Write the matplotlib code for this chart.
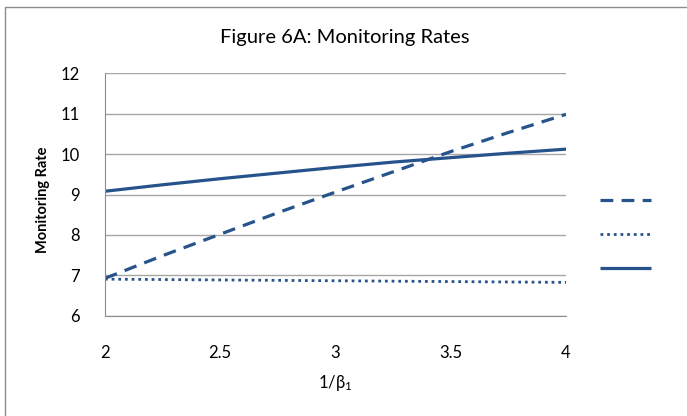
import matplotlib
matplotlib.use('Agg')
import matplotlib.pyplot as plt
from matplotlib.lines import Line2D
from matplotlib.patches import Rectangle

plt.rcParams['font.family'] = ['Lato', 'DejaVu Sans']
plt.rcParams['mathtext.fontset'] = 'custom'
plt.rcParams['mathtext.rm'] = 'Lato'
plt.rcParams['mathtext.it'] = 'Lato:italic'

# data
inv_beta = [2.0, 2.25, 2.5, 2.75, 3.0, 3.25, 3.5, 3.75, 4.0]
rate_dashed = [6.93, 7.49, 8.02, 8.55, 9.06, 9.56, 10.06, 10.53, 10.98]
rate_dotted = [6.91, 6.90, 6.89, 6.88, 6.87, 6.86, 6.85, 6.84, 6.83]
rate_solid = [9.08, 9.24, 9.39, 9.53, 9.67, 9.80, 9.91, 10.02, 10.12]
x_ticks = [2, 2.5, 3, 3.5, 4]
x_tick_labels = ['2', '2.5', '3', '3.5', '4']
y_ticks = [6, 7, 8, 9, 10, 11, 12]

blue = '#27538C'
grid_col = '#A6A6A6'

fig = plt.figure(figsize=(6.87, 4.16), dpi=100)
ax = fig.add_axes([0.1528, 0.2404, 0.6711, 0.5841])

ax.plot(inv_beta, rate_dashed, color=blue, lw=2.3, dashes=(4, 2.6))
ax.plot(inv_beta, rate_dotted, color=blue, lw=2.0, dashes=(1, 1.4))
ax.plot(inv_beta, rate_solid, color=blue, lw=2.3, solid_capstyle='butt')

ax.set_xlim(2, 4)
ax.set_ylim(6, 12)
ax.set_xticks(x_ticks)
ax.set_xticklabels(x_tick_labels)
ax.set_yticks(y_ticks)
ax.tick_params(axis='both', length=0, labelsize=12)
ax.tick_params(axis='x', pad=21)
ax.tick_params(axis='y', pad=18)
ax.grid(axis='y', color=grid_col, lw=1)
ax.set_axisbelow(True)
for s in ['top', 'right']:
    ax.spines[s].set_visible(False)
ax.spines['left'].set_color('#8C8C8C')
ax.spines['bottom'].set_color('#8C8C8C')

ax.set_xlabel('1/β$_1$', fontsize=12)
ax.xaxis.set_label_coords(0.5, -0.276)
ax.xaxis.label.set_verticalalignment('center')
ax.set_ylabel('Monitoring Rate', fontsize=10.5, fontweight='bold')
ax.yaxis.set_label_coords(-0.134, 0.477)
ax.yaxis.label.set_verticalalignment('center')

fig.text(0.502, 0.909, 'Figure 6A: Monitoring Rates', ha='center', va='center', fontsize=14.5)

# legend without labels
handles = [
    Line2D([], [], color=blue, lw=2.3, dashes=(4, 2.6)),
    Line2D([], [], color=blue, lw=2.0, dashes=(1, 1.4)),
    Line2D([], [], color=blue, lw=2.3, solid_capstyle='butt'),
]
fig.legend(handles, ['', '', ''], loc='center left', bbox_to_anchor=(0.855, 0.435),
           frameon=False, handlelength=3.7, labelspacing=1.6, fontsize=10,
           handletextpad=0)

fig.add_artist(Rectangle((5 / 687, -0.1), 1.2, 1.1 - 7 / 416, transform=fig.transFigure,
                         fill=False, edgecolor='#8C8C8C', lw=1))

fig.savefig('out.png', dpi=100)
